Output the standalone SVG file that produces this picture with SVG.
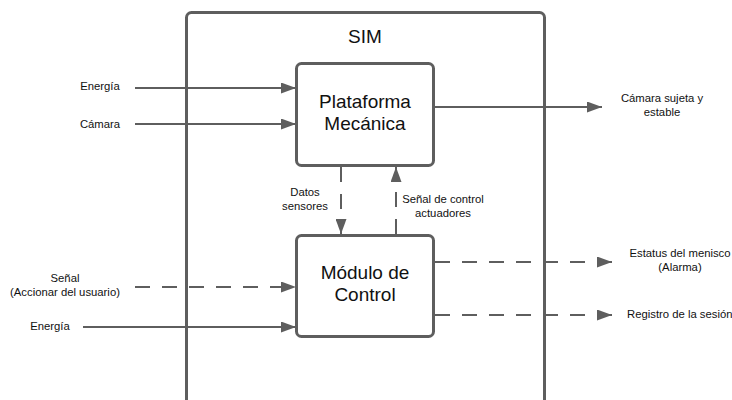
<svg xmlns="http://www.w3.org/2000/svg" width="732" height="400" viewBox="0 0 732 400">
<defs>
<marker id="ah" markerWidth="15" markerHeight="11" refX="15" refY="5.5" orient="auto" markerUnits="userSpaceOnUse">
<path d="M0,0 L15,5.5 L0,11 Z" fill="#5e5e5e"/>
</marker>
</defs>
<style>
.box{fill:#fff;stroke:#5e5e5e;stroke-width:3}
.sys{fill:none;stroke:#5e5e5e;stroke-width:3}
.ln{fill:none;stroke:#5e5e5e;stroke-width:2;marker-end:url(#ah)}
.ds{stroke-dasharray:15,12}
.t{font-family:"Liberation Sans",Arial,sans-serif;fill:#111}
.big{font-size:19px;text-anchor:middle}
.sm{font-size:11.3px}
.c{text-anchor:middle}
</style>
<rect width="732" height="400" fill="#fff"/>
<g id="sim">
<rect class="sys" x="186.5" y="12.5" width="358" height="420" rx="5"/>
<text class="t big" x="365" y="43">SIM</text>
</g>
<g id="connectors">
<line class="ln" x1="135" y1="88" x2="296" y2="88"/>
<line class="ln" x1="135" y1="124" x2="296" y2="124"/>
<line class="ln ds" x1="135" y1="287" x2="296" y2="287"/>
<line class="ln" x1="83" y1="327" x2="296" y2="327"/>
<line class="ln" x1="434" y1="107" x2="602" y2="107"/>
<line class="ln ds" x1="435" y1="262" x2="612" y2="262"/>
<line class="ln ds" x1="435" y1="315" x2="612" y2="315"/>
<line class="ln ds" x1="341" y1="167" x2="341" y2="234"/>
<line class="ln ds" x1="396" y1="234" x2="396" y2="167"/>
</g>
<g id="plataforma">
<rect class="box" x="296.5" y="63.5" width="137" height="102" rx="5"/>
<text class="t big" x="365" y="108">Plataforma</text>
<text class="t big" x="365" y="130">Mecánica</text>
</g>
<g id="control">
<rect class="box" x="296.5" y="235.5" width="137" height="101" rx="5"/>
<text class="t big" x="365" y="279">Módulo de</text>
<text class="t big" x="365" y="301">Control</text>
</g>
<g id="labels">
<text class="t sm c" x="100" y="90">Energía</text>
<text class="t sm c" x="100" y="128">Cámara</text>
<text class="t sm c" x="65" y="282">Señal</text>
<text class="t sm c" x="65" y="296">(Accionar del usuario)</text>
<text class="t sm c" x="50" y="330">Energía</text>
<text class="t sm c" x="662" y="102">Cámara sujeta y</text>
<text class="t sm c" x="662" y="116">estable</text>
<text class="t sm c" x="680" y="257">Estatus del menisco</text>
<text class="t sm c" x="680" y="271">(Alarma)</text>
<text class="t sm" x="627" y="318">Registro de la sesión</text>
<text class="t sm c" x="305" y="196">Datos</text>
<text class="t sm c" x="305" y="210">sensores</text>
<text class="t sm c" x="443" y="203">Señal de control</text>
<text class="t sm c" x="443" y="217">actuadores</text>
</g>
</svg>
